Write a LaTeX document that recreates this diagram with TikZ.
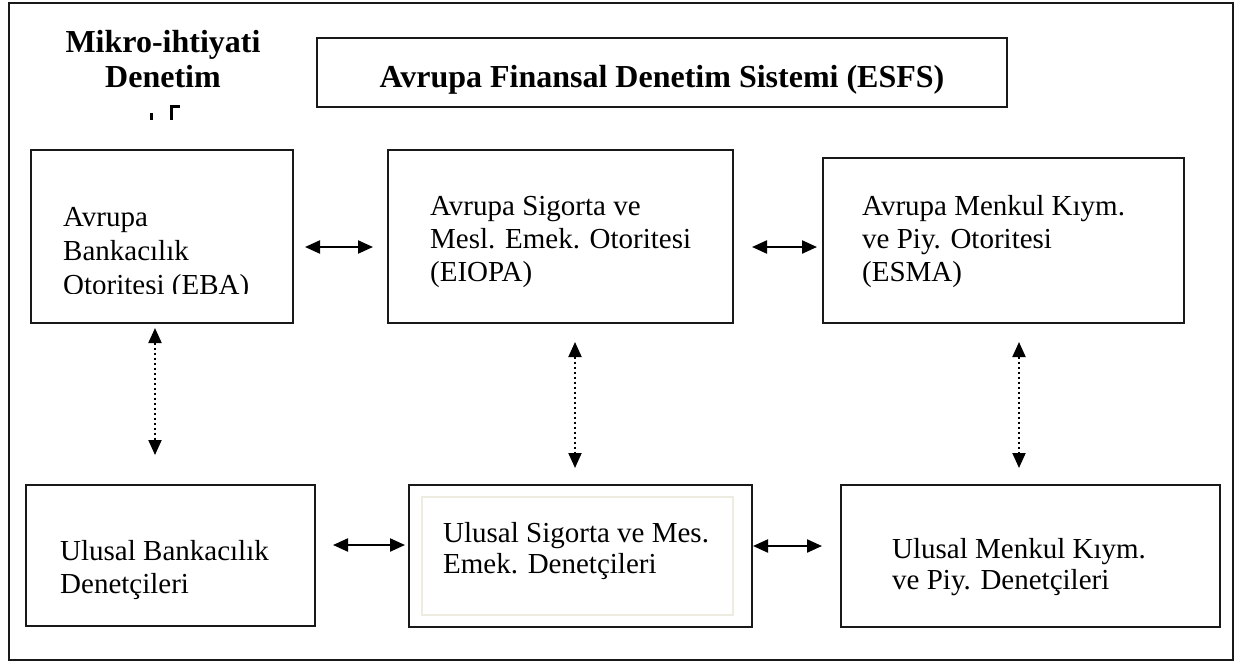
\documentclass[tikz,border=0pt]{standalone}
\usepackage{fontspec}
\setmainfont{Liberation Serif}
\usetikzlibrary{arrows.meta}
\begin{document}
\begin{tikzpicture}[x=1pt,y=-1pt,
  box/.style={draw=black!90, line width=1.9pt, inner sep=0pt},
  txt/.style={anchor=base west, inner sep=0pt, font=\fontsize{29}{33}\selectfont},
  btxt/.style={anchor=base, inner sep=0pt, font=\fontsize{32}{35}\selectfont\bfseries},
  harrow/.style={line width=2.2pt, {Triangle[length=15pt,width=13pt]}-{Triangle[length=15pt,width=13pt]}},
  varrow/.style={line width=2pt, dash pattern=on 2pt off 3pt, {Triangle[length=15pt,width=13pt]}-{Triangle[length=15pt,width=13pt]}}
]
\useasboundingbox (0,0) rectangle (1240,670);
% outer frame
\draw[line width=1.9pt, draw=black!90] (9,3) rectangle (1233,660);

% headings
\node[btxt] (mikro) at (163,52) {Mikro-ihtiyati};
\node[btxt] (denetim) at (163,87) {Denetim};
\fill (150,113) rectangle (153,120);
\fill (170,105) rectangle (173,120);
\fill (170,105) rectangle (180,107.5);

\node[box, minimum width=690pt, minimum height=69pt] (esfs) at (662,72.5) {};
\node[btxt] (esfst) at (662,87) {Avrupa Finansal Denetim Sistemi (ESFS)};

% top row boxes
\node[box, minimum width=262pt, minimum height=173pt] (eba) at (162,236.5) {};
\node[box, minimum width=345pt, minimum height=173pt] (eiopa) at (560.5,236.5) {};
\node[box, minimum width=361pt, minimum height=165pt] (esma) at (1003.5,240.5) {};

\begin{scope}
\clip (40,160) rectangle (290,293.5);
\node[txt] (eba1) at (63,226) {Avrupa};
\node[txt] (eba2) at (63,260) {Bankacılık};
\node[txt] (eba3) at (63,294) {Otoritesi (EBA)};
\end{scope}

\node[txt] (eio1) at (430,215) {Avrupa Sigorta ve};
\node[txt] (eio2) at (430,248) {Mesl. Emek. Otoritesi};
\node[txt] (eio3) at (430,281) {(EIOPA)};

\node[txt] (esm1) at (862,215) {Avrupa Menkul Kıym.};
\node[txt] (esm2) at (862,248) {ve Piy. Otoritesi};
\node[txt] (esm3) at (862,281) {(ESMA)};

% bottom row boxes
\node[box, minimum width=289pt, minimum height=141pt] (ubd) at (170.5,555.5) {};
\node[box, minimum width=343pt, minimum height=142pt] (usd) at (580.5,556) {};
\draw[line width=1.5pt, draw={rgb,255:red,238;green,236;blue,225}] (422,497) rectangle (733,615);
\node[box, minimum width=379pt, minimum height=142pt] (umd) at (1030.5,556) {};

\node[txt] (ubd1) at (60,560) {Ulusal Bankacılık};
\node[txt] (ubd2) at (60,593) {Denetçileri};

\node[txt] (usd1) at (443,542) {Ulusal Sigorta ve Mes.};
\node[txt] (usd2) at (443,573) {Emek. Denetçileri};

\node[txt] (umd1) at (892,558) {Ulusal Menkul Kıym.};
\node[txt] (umd2) at (892,589) {ve Piy. Denetçileri};

% arrow endpoints
\coordinate (a1l) at (305,247); \coordinate (a1r) at (373,247);
\coordinate (a2l) at (752,247); \coordinate (a2r) at (817,247);
\coordinate (b1l) at (333,545); \coordinate (b1r) at (405,545);
\coordinate (b2l) at (753,546); \coordinate (b2r) at (822,546);
\coordinate (v1t) at (155,328); \coordinate (v1b) at (155,455);
\coordinate (v2t) at (575,342); \coordinate (v2b) at (575,468);
\coordinate (v3t) at (1019,342); \coordinate (v3b) at (1019,468);

\draw[harrow] (a1l) -- (a1r);
\draw[harrow] (a2l) -- (a2r);
\draw[harrow] (b1l) -- (b1r);
\draw[harrow] (b2l) -- (b2r);
\draw[varrow] (v1t) -- (v1b);
\draw[varrow] (v2t) -- (v2b);
\draw[varrow] (v3t) -- (v3b);
\end{tikzpicture}
\end{document}
